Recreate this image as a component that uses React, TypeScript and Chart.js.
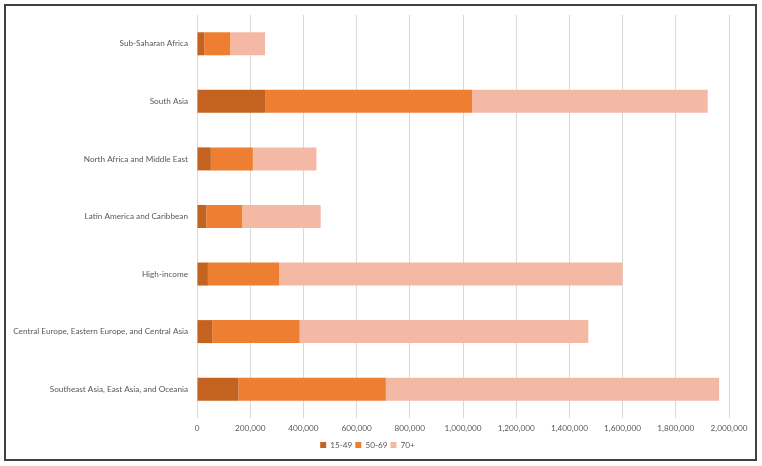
import React, { useRef, useEffect } from "react";
import { Chart, registerables } from "chart.js";

Chart.register(...registerables);

const regions = [
  "Sub-Saharan Africa",
  "South Asia",
  "North Africa and Middle East",
  "Latin America and Caribbean",
  "High-income",
  "Central Europe, Eastern Europe, and Central Asia",
  "Southeast Asia, East Asia, and Oceania",
];

const age15to49 = [27000, 256000, 52000, 35000, 41000, 57000, 156000];
const age50to69 = [98000, 778000, 158000, 135000, 268000, 329000, 554000];
const age70plus = [131000, 886000, 239000, 295000, 1291000, 1085000, 1253000];

const xTicks = [0, 200000, 400000, 600000, 800000, 1000000, 1200000, 1400000, 1600000, 1800000, 2000000];

const FONT = "Lato, 'Open Sans', sans-serif";
const TEXT = "#595959";

const StackedBars: React.FC = () => {
  const canvasRef = useRef<HTMLCanvasElement>(null);

  useEffect(() => {
    if (!canvasRef.current) {
      return;
    }
    const chart = new Chart(canvasRef.current, {
      type: "bar",
      data: {
        labels: regions,
        datasets: [
          { label: "15-49", data: age15to49, backgroundColor: "#C4631F" },
          { label: "50-69", data: age50to69, backgroundColor: "#EE7E31" },
          { label: "70+", data: age70plus, backgroundColor: "#F4B9A5" },
        ],
      },
      options: {
        indexAxis: "y",
        animation: false,
        responsive: true,
        maintainAspectRatio: false,
        datasets: {
          bar: { categoryPercentage: 0.8, barPercentage: 0.5 },
        },
        layout: { padding: { left: 0, right: 26, top: 9, bottom: 0 } },
        plugins: {
          tooltip: { enabled: false },
          legend: {
            position: "bottom",
            labels: {
              boxWidth: 6,
              boxHeight: 6,
              padding: 3,
              color: TEXT,
              font: { family: FONT, size: 8.2 },
            },
          },
        },
        scales: {
          x: {
            stacked: true,
            min: 0,
            max: 2000000,
            afterBuildTicks: (scale) => {
              scale.ticks = xTicks.map((v) => ({ value: v }));
            },
            grid: { color: "#D9D9D9", drawTicks: false },
            border: { display: false },
            ticks: {
              padding: 5,
              color: TEXT,
              font: { family: FONT, size: 8.2 },
              callback: (v) => Number(v).toLocaleString("en-US"),
            },
          },
          y: {
            stacked: true,
            afterFit: (scale) => {
              scale.width = 191;
              scale.paddingTop = 0;
              scale.paddingBottom = 0;
            },
            grid: { display: false, drawTicks: false },
            border: { display: false },
            ticks: {
              padding: 9,
              color: TEXT,
              font: { family: FONT, size: 8.2 },
            },
          },
        },
      },
    });
    return () => {
      chart.destroy();
    };
  }, []);

  return <canvas ref={canvasRef}></canvas>;
};

export default function App() {
  return (
    <div
      style={{
        position: "absolute",
        left: 4,
        top: 4,
        width: 753,
        height: 457,
        boxSizing: "border-box",
        border: "2px solid #404040",
        background: "#fff",
      }}
    >
      <StackedBars />
    </div>
  );
}
